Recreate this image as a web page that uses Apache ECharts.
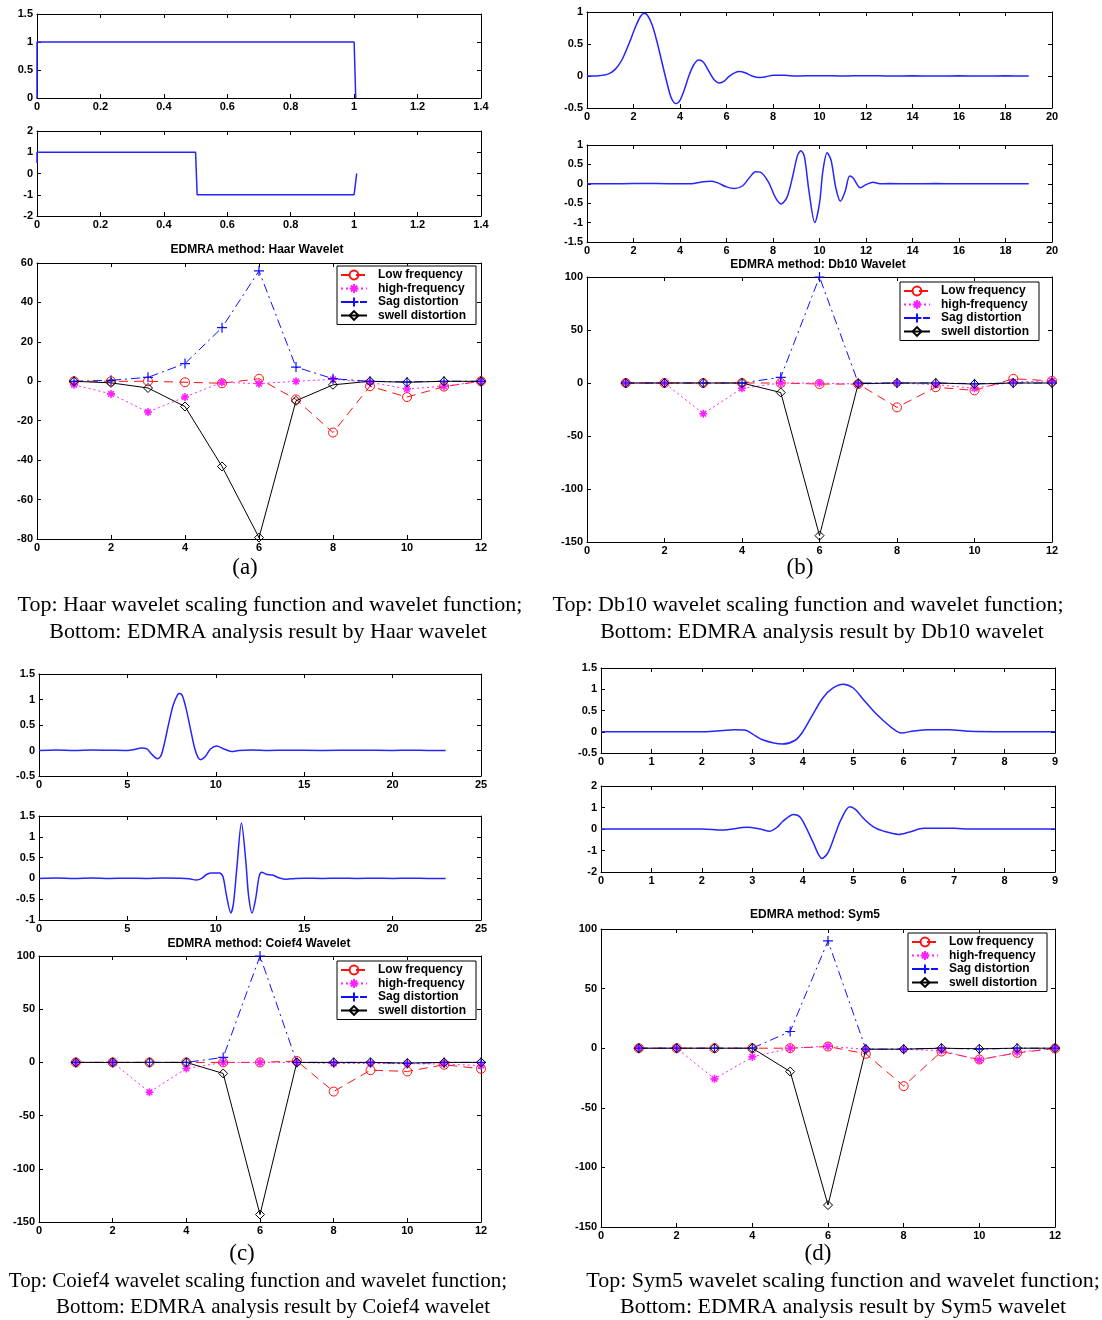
<!DOCTYPE html>
<html><head><meta charset="utf-8">
<script src="https://cdn.jsdelivr.net/npm/echarts@6/dist/echarts.min.js"></script>
<style>html,body{margin:0;padding:0;background:#fff}#c{width:1102px;height:1320px}</style>
</head><body><div id="c"></div>
<script>
// ---------------- DATA ----------------
const samples = [1, 2, 3, 4, 5, 6, 7, 8, 9, 10, 11, 12];
const seriesNames = ['Low frequency', 'high-frequency', 'Sag distortion', 'swell distortion'];

// wavelet scaling / wavelet functions, [x, y]
const haarScaling = [[0,0],[0,1],[1,1],[1.005,0]];
const haarWavelet = [[0,0.5],[0,1],[0.5,1],[0.505,-1],[1,-1],[1.008,0]];

const db10Scaling = [[0,0],[0.5,0.005],[0.9,0.03],[1.2,0.1],[1.5,0.25],[1.8,0.5],[2.1,0.78],[2.3,0.93],[2.45,0.98],[2.6,0.95],[2.8,0.8],[3.0,0.55],[3.2,0.25],[3.4,-0.05],[3.6,-0.32],[3.75,-0.42],[3.85,-0.43],[4.0,-0.38],[4.2,-0.2],[4.4,0.02],[4.6,0.18],[4.8,0.25],[5.0,0.22],[5.2,0.1],[5.45,-0.05],[5.7,-0.11],[5.9,-0.08],[6.1,-0.01],[6.35,0.05],[6.55,0.07],[6.8,0.05],[7.1,0.0],[7.4,-0.025],[7.7,-0.01],[8.0,0.01],[8.5,0.01],[9,0.0],[10,0.005],[11,0],[12,0.005],[13,0],[14,0.003],[15,0],[16,0.003],[17,0],[18,0.002],[19,0]];
const db10Wavelet = [[0,0],[1,0],[2,0.005],[3,0.005],[4,0],[4.6,0.01],[5.0,0.05],[5.3,0.065],[5.6,0.03],[6.0,-0.08],[6.35,-0.12],[6.7,-0.05],[7.0,0.17],[7.25,0.31],[7.45,0.3],[7.8,0.05],[8.1,-0.35],[8.35,-0.52],[8.6,-0.35],[8.85,0.2],[9.05,0.72],[9.2,0.85],[9.35,0.7],[9.55,-0.2],[9.8,-1.0],[10.0,-0.5],[10.15,0.35],[10.33,0.8],[10.5,0.6],[10.7,-0.1],[10.9,-0.45],[11.1,-0.2],[11.3,0.2],[11.45,0.15],[11.75,-0.1],[12.0,-0.02],[12.3,0.04],[12.6,0.0],[13,0.005],[14,0],[15,0.005],[16,0],[17,0.004],[18,0],[19,0]];

const coif4Scaling = [[0,0],[1,0.01],[2,0],[3,0.01],[4,0.005],[5,0.0],[5.4,0.02],[5.8,0.05],[6.1,0.03],[6.4,-0.08],[6.7,-0.16],[6.9,-0.1],[7.1,0.15],[7.35,0.55],[7.6,0.9],[7.85,1.1],[7.95,1.12],[8.1,1.08],[8.3,0.85],[8.55,0.45],[8.8,0.05],[9.0,-0.14],[9.15,-0.18],[9.4,-0.12],[9.7,0.03],[10.05,0.09],[10.4,0.04],[10.9,-0.02],[11.3,0.0],[12,0.01],[13,0],[14,0.005],[16,0],[18,0.005],[20,0],[21,0.005],[22,0],[23,0]];
const coif4Wavelet = [[0,0],[1,0.01],[2,0],[3,0.01],[4,0],[5,0.005],[6,0],[7,0.01],[8,0.005],[8.5,-0.01],[8.9,-0.04],[9.2,0.0],[9.5,0.1],[9.8,0.13],[10.2,0.13],[10.4,0.05],[10.6,-0.4],[10.85,-0.83],[11.0,-0.6],[11.2,0.3],[11.45,1.33],[11.7,0.4],[11.85,-0.4],[12.05,-0.83],[12.25,-0.5],[12.45,0.05],[12.6,0.15],[12.85,0.1],[13.2,0.08],[13.6,0.01],[14.0,-0.02],[14.5,0.0],[15,0.005],[16,0],[17,0.005],[18,0],[19,0.005],[20,0],[21,0.005],[22,0],[23,0]];

const sym5Scaling = [[0,0],[1,0],[2,0],[2.3,0.02],[2.65,0.05],[2.85,0.04],[3.0,-0.05],[3.2,-0.19],[3.6,-0.29],[3.85,-0.2],[4.0,0.0],[4.2,0.41],[4.4,0.8],[4.6,1.03],[4.8,1.12],[5.0,1.03],[5.2,0.76],[5.4,0.49],[5.6,0.26],[5.8,0.06],[5.95,-0.03],[6.2,0.02],[6.5,0.05],[6.9,0.05],[7.3,0.01],[8,0],[9,0]];
const sym5Wavelet = [[0,0],[1,0],[2,0],[2.4,-0.05],[2.9,0.08],[3.15,0.0],[3.35,-0.1],[3.5,0.1],[3.6,0.35],[3.82,0.68],[3.95,0.55],[4.1,-0.1],[4.2,-0.6],[4.38,-1.37],[4.5,-1.1],[4.65,-0.2],[4.75,0.4],[4.93,1.03],[5.05,0.9],[5.2,0.5],[5.4,0.1],[5.6,-0.1],[5.9,-0.25],[6.1,-0.15],[6.4,0.03],[7,0.03],[7.3,0],[9,0]];

// EDMRA analysis results (x = samples)
const haarLow   = [0, 0, 0, -0.5, -1, 1.3, -9.2, -26, -2.5, -8, -2.7, 0];
const haarHigh  = [-1.8, -6.4, -15.6, -8, -0.5, -1.2, 0, 1, -0.5, -3.9, -2.5, 0];
const haarSag   = [0, 0.5, 2, 9, 27.2, 56, 7.2, 1.3, 0, -0.3, 0, 0];
const haarSwell = [0, -0.8, -3.4, -12.8, -43.2, -79.3, -9.9, -1.8, 0, -0.5, 0, 0];

const db10Low   = [0, 0, 0, 0, 0, -1, -1, -23, -4, -7, 4, 2];
const db10High  = [0, 0, -29, -5, 0, 0, -1, 0, -1.5, -5, 1, 2];
const db10Sag   = [0, 0, 0, 0, 5.4, 100, 0, 0, 0, -0.6, 0, 0];
const db10Swell = [0, 0, 0, 0, -9, -144, -0.6, 0, 0, -1, 0, 0];

const coif4Low   = [0, 0, 0, 0, 0, 0, 1.3, -27.4, -7.3, -8.5, -2.2, -6];
const coif4High  = [0, 0, -28, -5.7, 0, 0, 0, -1, -1, -1.2, -1.5, -3];
const coif4Sag   = [0, 0, 0, 0, 4.7, 100, 0, 0, 0, -1, 0, 0];
const coif4Swell = [0, 0, 0, 0, -10.4, -143, 0, 0, 0, -0.6, 0, 0];

const sym5Low   = [0, 0, 0, 0, 0, 1.4, -4.7, -31.8, -2.8, -9.5, -3.9, -0.3];
const sym5High  = [0, 0, -25.7, -7.3, 0, 1.7, -1, -1, -2, -10, -3.3, 0];
const sym5Sag   = [0, 0, 0, 0, 14, 90, -0.8, -0.8, 0, -0.8, 0, 0];
const sym5Swell = [0, 0, 0, 0, -19.6, -131.6, -0.8, -0.8, 0, -0.5, 0, 0];

// ---------------- BUILD ----------------
const SANS = '"Liberation Sans", Arial, Helvetica, sans-serif';
const SERIF = '"Liberation Serif", "Times New Roman", serif';
const lab = {fontFamily: SANS, fontWeight: 'bold', fontSize: 11, color: '#000'};
const grids = [], xAxes = [], yAxes = [], series = [], legends = [], graphics = [];

function addPlot(rect, xr, yr) {
  const i = grids.length;
  grids.push({left: rect[0], top: rect[1], width: rect[2], height: rect[3], containLabel: false});
  const line = {show: true, onZero: false, lineStyle: {color: '#000', width: 1}};
  const tick = {show: true, inside: true, length: 4, lineStyle: {color: '#000', width: 1}};
  const base = (r) => ({type: 'value', gridIndex: i, min: r[0], max: r[1], interval: r[2],
    axisLine: line, axisTick: tick, splitLine: {show: false}, axisPointer: {show: false}});
  xAxes.push(Object.assign(base(xr), {position: 'bottom', axisLabel: Object.assign({margin: 3}, lab)}));
  xAxes.push(Object.assign(base(xr), {position: 'top', axisLabel: {show: false}}));
  yAxes.push(Object.assign(base(yr), {position: 'left', axisLabel: Object.assign({margin: 4}, lab)}));
  yAxes.push(Object.assign(base(yr), {position: 'right', axisLabel: {show: false}}));
  return i;
}

function curve(i, data, smooth) {
  series.push({type: 'line', xAxisIndex: 2 * i, yAxisIndex: 2 * i, data: data,
    symbol: 'none', showSymbol: false, smooth: smooth, silent: true,
    lineStyle: {color: '#2525ff', width: 1.5}, emphasis: {disabled: true}});
}

const PLUS = 'path://M0,-1L0,1M-1,0L1,0';
const STAR = 'path://M0,-1L0,1M-1,0L1,0M-0.7,-0.7L0.7,0.7M-0.7,0.7L0.7,-0.7';
const styles = [
  {symbol: 'circle', size: 9, color: '#ff1010', dash: [9, 6], bw: 1},
  {symbol: STAR, size: 8, color: '#ff20ff', dash: [2, 3], bw: 1.6},
  {symbol: PLUS, size: 10, color: '#1010ff', dash: [9, 4, 2, 4], bw: 1.2},
  {symbol: 'diamond', size: 9, color: '#000000', dash: 'solid', bw: 1}
];

function edmra(i, arrays) {
  arrays.forEach((arr, k) => {
    const st = styles[k];
    series.push({name: seriesNames[k], type: 'line', xAxisIndex: 2 * i, yAxisIndex: 2 * i,
      data: samples.map((s, j) => [s, arr[j]]),
      symbol: st.symbol, symbolSize: st.size, showAllSymbol: true,
      itemStyle: {color: 'rgba(255,255,255,0)', borderColor: st.color, borderWidth: st.bw},
      lineStyle: {color: st.color, width: 1, type: st.dash},
      emphasis: {disabled: true}, silent: true});
  });
}

function legend(left, top) {
  legends.push({left: left, top: top, orient: 'vertical', selectedMode: false,
    data: seriesNames, padding: [3, 10, 3, 3], itemWidth: 26, itemHeight: 11, itemGap: 1.5,
    borderColor: '#000', borderWidth: 1, backgroundColor: '#fff',
    textStyle: {fontFamily: SANS, fontWeight: 'bold', fontSize: 12, color: '#000', padding: [0, 0, 0, 6]}});
}

function text(x, y, str, font) {
  graphics.push({type: 'text', silent: true, style: {x: x, y: y, text: str, font: font,
    fill: '#000', textAlign: 'center', textVerticalAlign: 'middle'}});
}

// Panel (a) Haar
let p = addPlot([37, 14, 444, 84], [0, 1.4, 0.2], [0, 1.5, 0.5]); curve(p, haarScaling, false);
p = addPlot([37, 131, 444, 85], [0, 1.4, 0.2], [-2, 2, 1]); curve(p, haarWavelet, false);
p = addPlot([37, 263, 444, 276], [0, 12, 2], [-80, 60, 20]);
edmra(p, [haarLow, haarHigh, haarSag, haarSwell]); legend(337, 266);

// Panel (b) Db10
p = addPlot([587, 12, 465, 96], [0, 20, 2], [-0.5, 1, 0.5]); curve(p, db10Scaling, 0.3);
p = addPlot([587, 145, 465, 97], [0, 20, 2], [-1.5, 1, 0.5]); curve(p, db10Wavelet, 0.3);
p = addPlot([587, 277, 465, 265], [0, 12, 2], [-150, 100, 50]);
edmra(p, [db10Low, db10High, db10Sag, db10Swell]); legend(900, 282);

// Panel (c) Coif4
p = addPlot([39, 674, 442, 102], [0, 25, 5], [-0.5, 1.5, 0.5]); curve(p, coif4Scaling, 0.3);
p = addPlot([39, 816, 442, 104], [0, 25, 5], [-1, 1.5, 0.5]); curve(p, coif4Wavelet, 0.3);
p = addPlot([39, 956, 442, 266], [0, 12, 2], [-150, 100, 50]);
edmra(p, [coif4Low, coif4High, coif4Sag, coif4Swell]); legend(337, 961);

// Panel (d) Sym5
p = addPlot([601, 668, 454, 85], [0, 9, 1], [-0.5, 1.5, 0.5]); curve(p, sym5Scaling, 0.3);
p = addPlot([601, 786, 454, 86], [0, 9, 1], [-2, 2, 1]); curve(p, sym5Wavelet, 0.3);
p = addPlot([601, 929, 454, 298], [0, 12, 2], [-150, 100, 50]);
edmra(p, [sym5Low, sym5High, sym5Sag, sym5Swell]); legend(908, 933);

// Titles and captions
const tFont = 'bold 12px ' + SANS;
text(257, 250, 'EDMRA method: Haar Wavelet', tFont);
text(818, 265, 'EDMRA method: Db10 Wavelet', tFont);
text(259, 944, 'EDMRA method: Coief4 Wavelet', tFont);
text(815, 915, 'EDMRA method: Sym5', tFont);

const lFont = '23px ' + SERIF, cFont = '22px ' + SERIF, cFontC = '21px ' + SERIF;
text(245, 568, '(a)', lFont);
text(800, 568, '(b)', lFont);
text(242, 1254, '(c)', lFont);
text(818, 1254, '(d)', lFont);
text(270, 605, 'Top: Haar wavelet scaling function and wavelet function;', cFont);
text(268, 632, 'Bottom: EDMRA analysis result by Haar wavelet', cFont);
text(808, 605, 'Top: Db10 wavelet scaling function and wavelet function;', cFont);
text(822, 632, 'Bottom: EDMRA analysis result by Db10 wavelet', cFont);
text(258, 1281, 'Top: Coief4 wavelet scaling function and wavelet function;', cFontC);
text(273, 1307, 'Bottom: EDMRA analysis result by Coief4 wavelet', cFontC);
text(843, 1281, 'Top: Sym5 wavelet scaling function and wavelet function;', cFont);
text(843, 1307, 'Bottom: EDMRA analysis result by Sym5 wavelet', cFont);

const chart = echarts.init(document.getElementById('c'), null, {renderer: 'canvas'});
chart.setOption({
  animation: false, backgroundColor: '#fff',
  grid: grids, xAxis: xAxes, yAxis: yAxes, series: series, legend: legends,
  graphic: graphics
});
</script>
</body></html>
